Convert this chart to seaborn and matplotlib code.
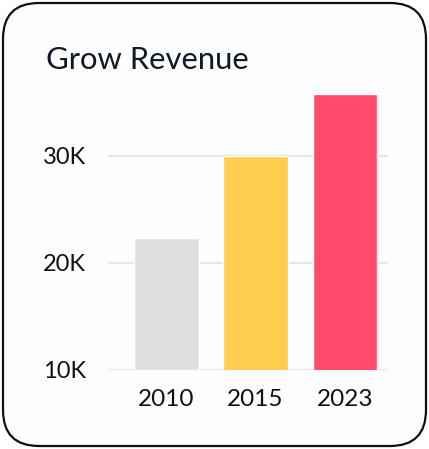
import matplotlib
matplotlib.use("Agg")
import matplotlib.pyplot as plt
import seaborn as sns
from matplotlib.patches import FancyBboxPatch

# data
years = ["2010", "2015", "2023"]
revenue = [22300, 30000, 35800]
bar_colors = ["#e0e0e0", "#ffcd50", "#ff4a6b"]
y_ticks = [10000, 20000, 30000]
y_tick_labels = ["10K", "20K", "30K"]

sns.set_theme(style="white")
plt.rcParams["font.family"] = ["Lato", "DejaVu Sans"]

W, H = 429, 449
fig = plt.figure(figsize=(W / 100, H / 100), dpi=100)
fig.patch.set_facecolor("white")

# card background with rounded border, drawn in pixel units
bg = fig.add_axes([0, 0, 1, 1])
bg.set_xlim(0, W)
bg.set_ylim(0, H)
bg.axis("off")
r = 36
card = FancyBboxPatch((3 + r, 3 + r), W - 6 - 2 * r, H - 6 - 2 * r,
                      boxstyle=f"round,pad={r},rounding_size={r}",
                      facecolor="#fdfdfd", edgecolor="#111111", linewidth=1.6)
bg.add_patch(card)

ax = fig.add_axes([108.3 / W, 79.3 / H, 279.4 / W, 288.5 / H])
ax.set_facecolor("none")
sns.barplot(x=years, y=revenue, hue=years, palette=bar_colors, legend=False,
            width=0.724, ax=ax, zorder=3, saturation=1)

ax.set_ylim(10000, 37000)
ax.set_xlim(-0.65, 2.48)
ax.set_yticks(y_ticks)
ax.set_yticklabels(y_tick_labels)
ax.yaxis.grid(True, color="#e6e6e6", linewidth=1.6, zorder=0)
ax.set_axisbelow(True)
for s in ax.spines.values():
    s.set_visible(False)
ax.tick_params(axis="both", length=0, labelsize=17, colors="#111111")
ax.tick_params(axis="y", pad=16)
ax.tick_params(axis="x", pad=14, labelsize=17.5)
ax.set_xlabel("")
ax.set_ylabel("")

fig.text(46 / W, 1 - 69 / H, "Grow Revenue", fontsize=22.3, color="#111827",
         ha="left", va="baseline")

fig.savefig("out.png", dpi=100)
